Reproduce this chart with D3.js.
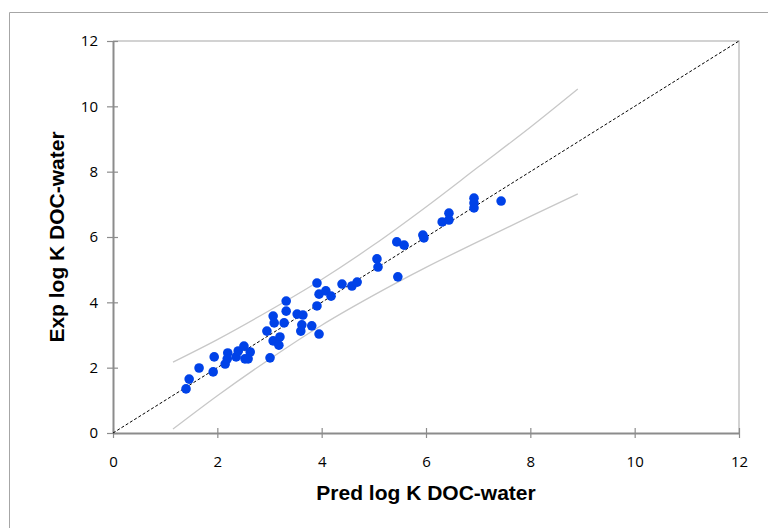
<!DOCTYPE html>
<html>
<head>
<meta charset="utf-8">
<script src="https://cdn.jsdelivr.net/npm/d3@7"></script>
<style>
  body { margin: 0; background: #fff; }
  svg { display: block; }
</style>
</head>
<body>
<svg id="chart" width="768" height="528"></svg>
<script>
// predicted vs experimental log K (DOC-water)
var predX = [1.40, 1.46, 1.65, 1.92, 1.94, 2.15, 2.20, 2.19, 2.36, 2.40, 2.51, 2.63, 2.53, 2.59,
  2.95, 3.01, 3.07, 3.09, 3.07, 3.20, 3.18, 3.28, 3.32, 3.32, 3.53, 3.64, 3.62, 3.60, 3.81,
  3.91, 3.95, 3.91, 3.95, 4.08, 4.18, 4.39, 4.58, 4.68, 5.06, 5.08, 5.44, 5.58, 5.46, 5.94,
  5.96, 6.31, 6.44, 6.44, 6.92, 6.92, 6.92, 7.44];
var expY = [1.35, 1.65, 1.99, 1.87, 2.33, 2.11, 2.45, 2.27, 2.33, 2.51, 2.66, 2.48, 2.27, 2.27,
  3.12, 2.30, 3.58, 3.37, 2.82, 2.94, 2.69, 3.37, 3.73, 4.04, 3.64, 3.61, 3.31, 3.12, 3.28,
  3.89, 3.03, 4.59, 4.25, 4.35, 4.19, 4.56, 4.50, 4.62, 5.33, 5.08, 5.85, 5.75, 4.78, 6.06,
  5.97, 6.46, 6.73, 6.52, 7.19, 7.04, 6.89, 7.10];

// prediction band
var bandX = [1.15, 2.0, 3.0, 4.0, 5.0, 6.0, 7.0, 8.0, 8.91];
var bandUpper = [2.17, 2.86, 3.75, 4.70, 5.76, 6.92, 8.14, 9.36, 10.53];
var bandLower = [0.12, 1.14, 2.26, 3.30, 4.22, 5.07, 5.86, 6.63, 7.32];

var ticks = [0, 2, 4, 6, 8, 10, 12];

var svg = d3.select("#chart");
var m = { left: 113, right: 739, top: 41, bottom: 433 };

var x = d3.scaleLinear().domain([0, 12]).range([m.left, m.right]);
var y = d3.scaleLinear().domain([0, 12]).range([m.bottom, m.top]);

// outer chart border
svg.append("path")
  .attr("d", "M9.5,528 V12.5 H768")
  .attr("fill", "none")
  .attr("stroke", "#a6a6a6")
  .attr("stroke-width", 1);

// plot area top/right
svg.append("path")
  .attr("d", "M" + m.left + "," + m.top + " H" + m.right + " V" + m.bottom)
  .attr("fill", "none")
  .attr("stroke", "#c4c4c4")
  .attr("stroke-width", 1.5);

// axes with crossing ticks
var xAxis = svg.append("g").attr("transform", "translate(0," + m.bottom + ")")
  .call(d3.axisBottom(x).tickValues(ticks).tickSizeInner(5).tickSizeOuter(0).tickPadding(18));
var yAxis = svg.append("g").attr("transform", "translate(" + m.left + ",0)")
  .call(d3.axisLeft(y).tickValues(ticks).tickSizeInner(6).tickSizeOuter(0).tickPadding(9));

[xAxis, yAxis].forEach(function (g) {
  g.select(".domain").attr("stroke", "#8c8c8c").attr("stroke-width", 2);
  g.selectAll(".tick line").attr("stroke", "#8c8c8c").attr("stroke-width", 1.2);
  g.selectAll(".tick text")
    .attr("fill", "#000")
    .style("font-family", "Open Sans, sans-serif")
    .style("font-size", "15px");
});
xAxis.selectAll(".tick line").attr("y1", -5);
yAxis.selectAll(".tick line").attr("x1", 5).attr("x2", -6);

// bands
var line = d3.line().curve(d3.curveMonotoneX);
[bandUpper, bandLower].forEach(function (b) {
  svg.append("path")
    .attr("d", line(bandX.map(function (v, i) { return [x(v), y(b[i])]; })))
    .attr("fill", "none")
    .attr("stroke", "#c8c8c8")
    .attr("stroke-width", 1.3);
});

// 1:1 line
svg.append("line")
  .attr("x1", x(0)).attr("y1", y(0))
  .attr("x2", x(12)).attr("y2", y(12))
  .attr("stroke", "#000")
  .attr("stroke-width", 1)
  .attr("stroke-dasharray", "3,2");

// points
svg.append("g").selectAll("circle")
  .data(predX)
  .enter().append("circle")
  .attr("cx", function (d) { return x(d); })
  .attr("cy", function (d, i) { return y(expY[i]); })
  .attr("r", 4.8)
  .attr("fill", "#0042e8");

// axis titles
svg.append("text")
  .attr("x", 426).attr("y", 500)
  .attr("text-anchor", "middle")
  .style("font-family", "Liberation Sans, Arial, sans-serif")
  .style("font-weight", "bold")
  .style("font-size", "21px")
  .text("Pred log K DOC-water");

svg.append("text")
  .attr("transform", "translate(64,237) rotate(-90)")
  .attr("text-anchor", "middle")
  .style("font-family", "Liberation Sans, Arial, sans-serif")
  .style("font-weight", "bold")
  .style("font-size", "21px")
  .text("Exp log K DOC-water");
</script>
</body>
</html>
